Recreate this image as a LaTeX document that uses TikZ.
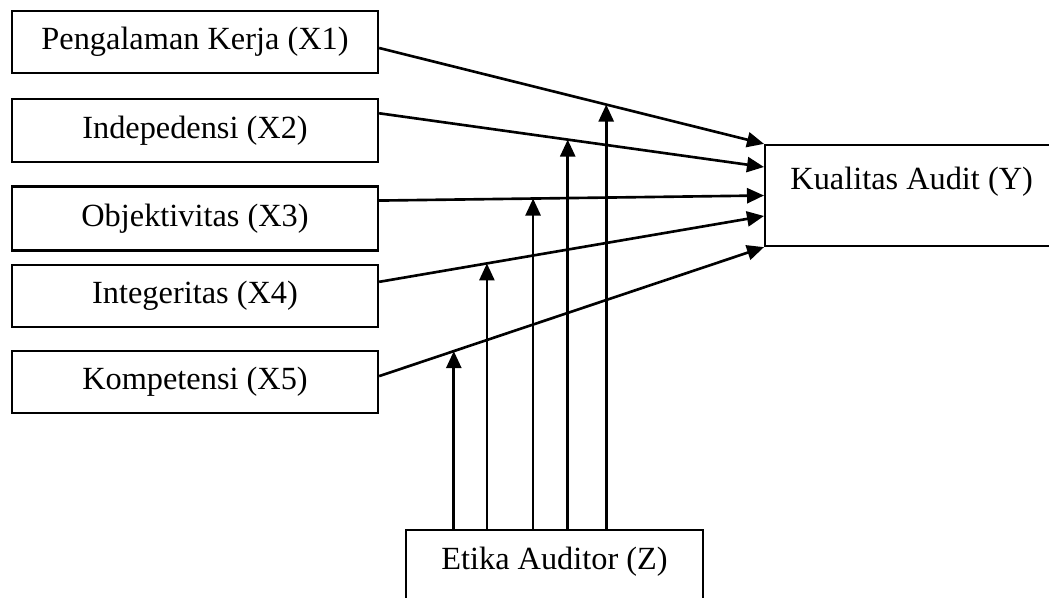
\documentclass[tikz,border=0pt]{standalone}
\usepackage{fontspec}
\setmainfont{Liberation Serif}
\usepackage{tikz}
\usetikzlibrary{arrows.meta, positioning, calc}
\tikzset{
  varbox/.style={rectangle, draw=black, line width=1.3pt,
    minimum width=7.32cm, minimum height=1.24cm,
    font=\fontsize{18.4}{22}\selectfont},
  hasilbox/.style={rectangle, draw=black, line width=1.3pt,
    minimum width=5.86cm, inner ysep=0pt,
    text height=0.9cm, text depth=1.12cm,
    font=\fontsize{18.4}{22}\selectfont},
  modbox/.style={rectangle, draw=black, line width=1.3pt,
    minimum width=5.94cm, inner ysep=0pt,
    text height=0.78cm, text depth=1.04cm,
    font=\fontsize{18.4}{22}\selectfont},
  arrow/.style={-{Triangle[length=0.34cm, width=0.3cm]}, line width=1.5pt}
}
\begin{document}
\begin{tikzpicture}
  \useasboundingbox (0,0) rectangle (20.98,-11.96);
  % Independent variables
  \node[varbox] (x1) at (3.9,-0.84) {Pengalaman Kerja (X1)};
  \node[varbox, below=0.48cm of x1, minimum height=1.26cm] (x2) {Indepedensi (X2)};
  \node[varbox, below=0.44cm of x2, minimum height=1.28cm] (x3) {Objektivitas (X3)};
  \node[varbox, below=0.24cm of x3] (x4) {Integeritas (X4)};
  \node[varbox, below=0.44cm of x4] (x5) {Kompetensi (X5)};
  % Dependent variable
  \node[hasilbox, anchor=west] (y) at (15.28,-3.91) {Kualitas Audit (Y)};
  % Moderating variable
  \node[modbox, anchor=north] (z) at (11.09,-10.58) {Etika Auditor (Z)};
  % Direct paths
  \draw[arrow] ([yshift=-0.12cm]x1.east) -- (y.north west) coordinate[pos=0.59] (m1);
  \draw[arrow] ([yshift=0.35cm]x2.east) -- ([yshift=0.57cm]y.west) coordinate[pos=0.49] (m2);
  \draw[arrow] ([yshift=0.36cm]x3.east) -- (y.west) coordinate[pos=0.40] (m3);
  \draw[arrow] ([yshift=0.28cm]x4.east) -- ([yshift=-0.41cm]y.west) coordinate[pos=0.28] (m4);
  \draw[arrow] ([yshift=0.12cm]x5.east) -- (y.south west) coordinate[pos=0.194] (m5);
  % Moderating paths
  \foreach \m in {m1,m2,m3,m4,m5}
    \draw[arrow] (z.north -| \m) -- (\m);
\end{tikzpicture}
\end{document}
